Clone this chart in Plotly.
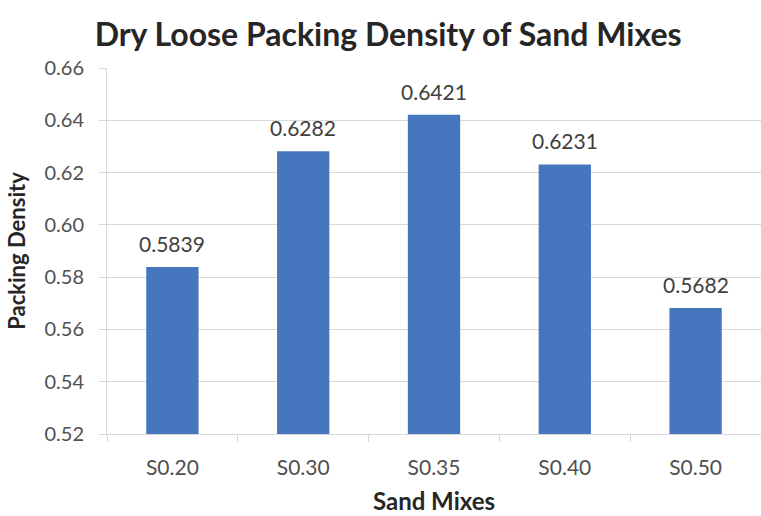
import plotly.graph_objects as go

# Sand mix categories and their measured dry loose packing densities
mixes = ["S0.20", "S0.30", "S0.35", "S0.40", "S0.50"]
packing_density = [0.5839, 0.6282, 0.6421, 0.6231, 0.5682]
y_ticks = [0.52, 0.54, 0.56, 0.58, 0.60, 0.62, 0.64, 0.66]

BAR_BLUE = "#4677BE"
GRID = "#D9D9D9"
TEXT = "#505050"
DARK = "#262626"
FONT = "Lato"
HEIGHT = 516

fig = go.Figure(
    go.Bar(
        x=mixes,
        y=packing_density,
        marker=dict(color=BAR_BLUE, line=dict(width=0)),
        hovertemplate="%{x}: %{y:.4f}<extra></extra>",
    )
)

# value labels sitting a little above each bar
for mix, val in zip(mixes, packing_density):
    fig.add_annotation(
        x=mix,
        y=val,
        text=f"{val:.4f}",
        showarrow=False,
        yanchor="bottom",
        yshift=9,
        font=dict(family=FONT, size=21, color="#404040"),
    )

fig.update_layout(
    width=761,
    height=HEIGHT,
    margin=dict(l=107, r=0, t=68, b=82),
    paper_bgcolor="white",
    plot_bgcolor="white",
    bargap=0.6,
    showlegend=False,
    title=dict(
        text="<b>Dry Loose Packing Density of Sand Mixes</b>",
        x=0.51,
        xanchor="center",
        xref="container",
        y=1 - 35 / HEIGHT,
        yref="container",
        yanchor="middle",
        font=dict(family=FONT, size=32, color=DARK),
    ),
    font=dict(family=FONT, color=TEXT),
)

fig.update_xaxes(
    type="category",
    range=[-0.5, 4.5],
    showgrid=False,
    showline=True,
    linecolor=GRID,
    linewidth=1,
    ticks="outside",
    tickson="boundaries",
    ticklen=7,
    tickcolor=GRID,
    ticklabelstandoff=15,
    tickfont=dict(family=FONT, size=21, color=TEXT),
    title=dict(
        text="<b>Sand Mixes</b>",
        font=dict(family=FONT, size=24, color=DARK),
        standoff=14,
    ),
)

fig.update_yaxes(
    range=[0.52, 0.66],
    tickvals=y_ticks,
    ticktext=[f"{v:.2f}" for v in y_ticks],
    showgrid=True,
    gridcolor=GRID,
    gridwidth=1,
    zeroline=False,
    showline=True,
    linecolor=GRID,
    linewidth=1,
    ticks="outside",
    ticklen=7,
    tickcolor=GRID,
    ticklabelstandoff=11,
    tickfont=dict(family=FONT, size=20, color=TEXT),
    title=dict(
        text="<b>Packing Density</b>",
        font=dict(family=FONT, size=22, color=DARK),
        standoff=12,
    ),
)

fig.write_html("out.html")
